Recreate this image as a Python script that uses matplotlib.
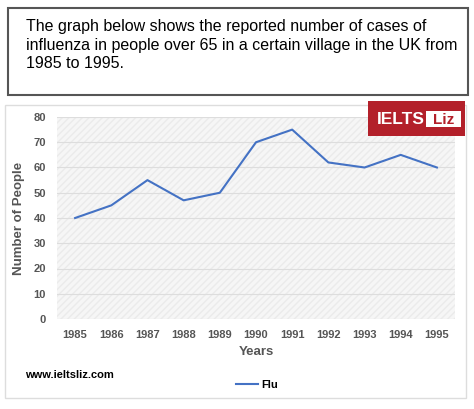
import matplotlib.pyplot as plt
from matplotlib.patches import Rectangle

years = [1985, 1986, 1987, 1988, 1989, 1990, 1991, 1992, 1993, 1994, 1995]
flu = [40, 45, 55, 47, 50, 70, 75, 62, 60, 65, 60]

plt.rcParams['font.family'] = ['Liberation Sans', 'DejaVu Sans']
fig = plt.figure(figsize=(4.74, 4.09), dpi=100)
W, H = 474, 409

def box(x0, y0, x1, y1, **kw):
    fig.patches.append(Rectangle((x0 / W, 1 - y1 / H), (x1 - x0) / W, (y1 - y0) / H,
                                 transform=fig.transFigure, **kw))

# question box
box(8, 8, 468, 95, fill=False, edgecolor='#555555', linewidth=1.5)
fig.text(26 / W, 1 - 19 / H,
         "The graph below shows the reported number of cases of\n"
         "influenza in people over 65 in a certain village in the UK from\n"
         "1985 to 1995.", fontsize=11.5, va='top', linespacing=1.3)

# chart frame
box(5, 105, 466, 398, fill=False, edgecolor='#dddddd', linewidth=1)

ax = fig.add_axes([57 / W, 1 - 319 / H, (455 - 57) / W, (319 - 117) / H])
ax.set_facecolor('#f6f6f6')
ax.add_patch(Rectangle((0, 0), 1, 1, transform=ax.transAxes, fill=False,
                       hatch='/////', edgecolor='#ebebeb', linewidth=0, zorder=0))
ax.plot(years, flu, color='#4472c4', linewidth=1.5, label='Flu', zorder=3)
ax.set_xlim(1984.5, 1995.5)
ax.set_ylim(0, 80)
ax.set_xticks(years)
ax.set_yticks(range(0, 81, 10))
ax.grid(axis='y', color='#dddddd', linewidth=0.8)
ax.set_axisbelow(True)
for s in ax.spines.values():
    s.set_visible(False)
ax.tick_params(length=0, labelsize=8, colors='#555555', pad=8)
for t in ax.get_xticklabels() + ax.get_yticklabels():
    t.set_fontweight('bold')
ax.set_xlabel('Years', fontsize=9.5, fontweight='bold', color='#555555')
ax.set_ylabel('Number of People', fontsize=9.5, fontweight='bold', color='#555555', labelpad=6)
ax.legend(loc='center', bbox_to_anchor=(257 / W, 1 - 385 / H), bbox_transform=fig.transFigure,
          frameon=False, handlelength=2, handletextpad=0.3,
          prop={'weight': 'bold', 'size': 8})

fig.text(25 / W, 1 - 375 / H, 'www.ieltsliz.com', fontsize=8, fontweight='bold', va='center')

# logo
box(368, 101, 465, 136, facecolor='#b3202a', edgecolor='none')
fig.text(377 / W, 1 - 119 / H, 'IELTS', color='white', fontsize=12.5, fontweight='bold', va='center')
box(426, 111, 461, 127, facecolor='white', edgecolor='none')
fig.text(443.5 / W, 1 - 119.5 / H, 'Liz', color='#b3202a', fontsize=11, fontweight='bold',
         va='center', ha='center')

fig.savefig('out.png', dpi=100)
